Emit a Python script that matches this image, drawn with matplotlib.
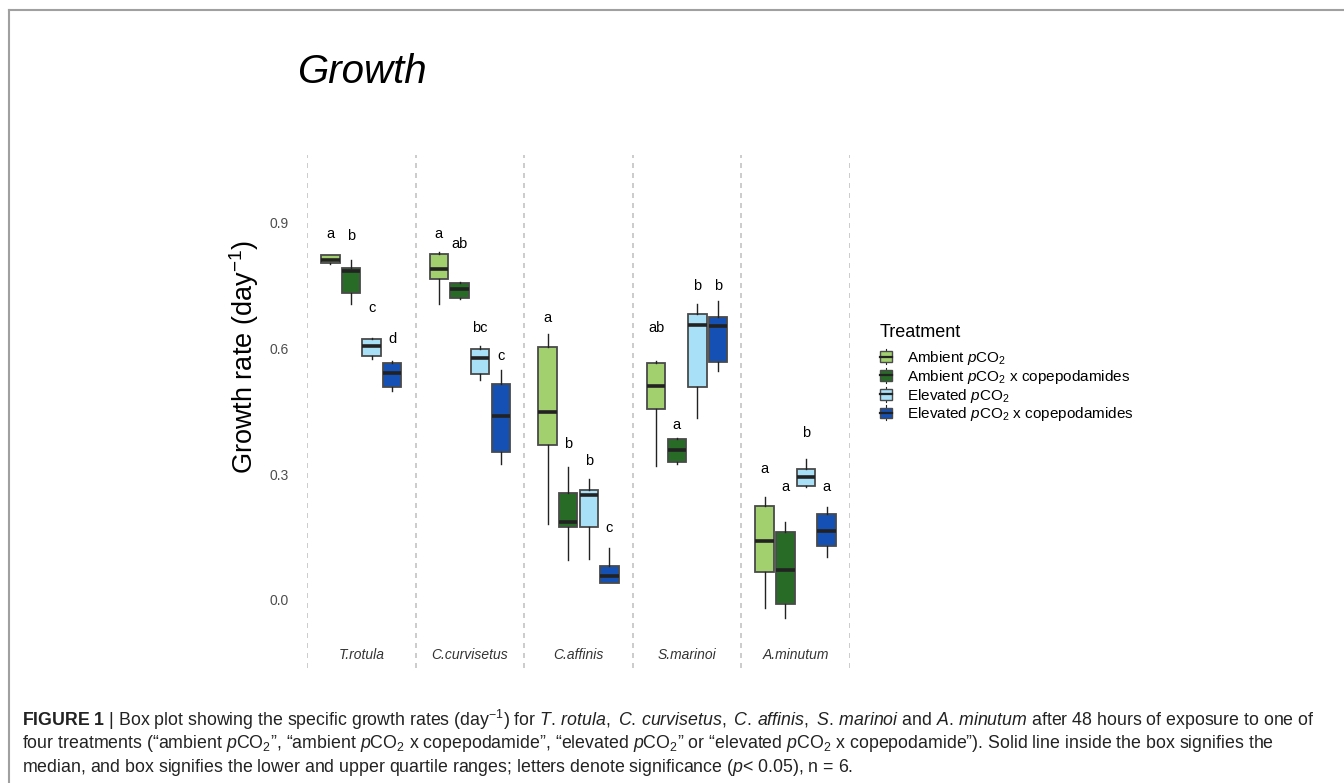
import matplotlib
matplotlib.use("Agg")
import matplotlib.pyplot as plt
from matplotlib.lines import Line2D
from matplotlib.patches import Rectangle, Patch
from matplotlib.legend_handler import HandlerBase

plt.rcParams['font.family'] = ['Liberation Sans', 'DejaVu Sans']
plt.rcParams['mathtext.fontset'] = 'custom'
plt.rcParams['mathtext.rm'] = 'Liberation Sans'
plt.rcParams['mathtext.it'] = 'Liberation Sans:italic'
plt.rcParams['mathtext.bf'] = 'Liberation Sans:bold'

# Species (facets) and treatments (boxes inside each facet)
species = ['T.rotula', 'C.curvisetus', 'C.affinis', 'S.marinoi', 'A.minutum']
treatments = ['Ambient $p$CO$_2$',
              'Ambient $p$CO$_2$ x copepodamides',
              'Elevated $p$CO$_2$',
              'Elevated $p$CO$_2$ x copepodamides']
colors = ['#a3d06f', '#276b27', '#a8e0f8', '#1550b4']

# Box statistics, one row per treatment, one column per species
q1 = [[0.802, 0.765, 0.369, 0.456, 0.067],
      [0.732, 0.719, 0.175, 0.329, -0.010],
      [0.581, 0.538, 0.175, 0.508, 0.271],
      [0.508, 0.352, 0.041, 0.567, 0.129]]
med = [[0.811, 0.788, 0.448, 0.510, 0.141],
       [0.783, 0.741, 0.185, 0.357, 0.071],
       [0.605, 0.577, 0.249, 0.655, 0.294],
       [0.541, 0.438, 0.057, 0.653, 0.165]]
q3 = [[0.821, 0.824, 0.603, 0.565, 0.224],
      [0.790, 0.756, 0.256, 0.383, 0.161],
      [0.621, 0.598, 0.261, 0.682, 0.311],
      [0.564, 0.515, 0.082, 0.675, 0.204]]
whislo = [[0.800, 0.706, 0.180, 0.320, -0.020],
          [0.705, 0.716, 0.095, 0.325, -0.044],
          [0.575, 0.523, 0.097, 0.434, 0.270],
          [0.498, 0.325, 0.040, 0.545, 0.103]]
whishi = [[0.823, 0.828, 0.633, 0.570, 0.245],
          [0.810, 0.757, 0.317, 0.386, 0.185],
          [0.625, 0.605, 0.289, 0.704, 0.337],
          [0.570, 0.547, 0.124, 0.712, 0.221]]

# significance letters and their heights
sig = [['a', 'a', 'a', 'ab', 'a'],
       ['b', 'ab', 'b', 'a', 'a'],
       ['c', 'bc', 'b', 'b', 'b'],
       ['d', 'c', 'c', 'b', 'a']]
sig_y = [[0.871, 0.871, 0.671, 0.647, 0.312],
         [0.867, 0.847, 0.371, 0.416, 0.270],
         [0.696, 0.647, 0.331, 0.748, 0.397],
         [0.621, 0.581, 0.171, 0.748, 0.270]]

yticks = [0.0, 0.3, 0.6, 0.9]

step = 0.19
box_w = 0.17

fig = plt.figure(figsize=(13.44, 7.83), dpi=100)
ax = fig.add_axes([0.2284, 0.1469, 0.404, 0.6551])

for t in range(len(treatments)):
    stats = []
    pos = []
    for s in range(len(species)):
        stats.append(dict(med=med[t][s], q1=q1[t][s], q3=q3[t][s],
                          whislo=whislo[t][s], whishi=whishi[t][s], fliers=[]))
        pos.append(s + 0.5 + (t - 1.5) * step)
    ax.bxp(stats, positions=pos, widths=box_w, patch_artist=True,
           showcaps=False, manage_ticks=False,
           boxprops=dict(facecolor=colors[t], edgecolor='#4a4a4a', linewidth=1.3),
           medianprops=dict(color='#222222', linewidth=2.6),
           whiskerprops=dict(color='#222222', linewidth=1.0),
           zorder=3)
    for s in range(len(species)):
        ax.text(pos[s], sig_y[t][s], sig[t][s], ha='center', va='center',
                fontsize=10.5, color='black')

# facet separators
for i in range(len(species) + 1):
    ax.axvline(i, color='#c4c4c4', linewidth=1.2, linestyle=(0, (3, 3)), zorder=1)

for i, name in enumerate(species):
    ax.text(i + 0.5, -0.131, name, ha='center', va='center', fontsize=10,
            style='italic', color='#333333')

ax.set_xlim(0, 5)
ax.set_ylim(-0.162, 1.06)
ax.set_xticks([])
ax.set_yticks(yticks)
ax.set_yticklabels(['0.0', '0.3', '0.6', '0.9'])
ax.tick_params(axis='y', length=0, pad=13, labelsize=10, labelcolor='#4d4d4d')
for sp in ax.spines.values():
    sp.set_visible(False)
ax.set_ylabel('Growth rate (day$^{-1}$)', fontsize=19.5, color='black')
ax.yaxis.set_label_coords(-0.085, 0.606)


class BoxKey(HandlerBase):
    def create_artists(self, legend, orig_handle, xdescent, ydescent,
                       width, height, fontsize, trans):
        x0, y0 = -xdescent, -ydescent
        cx = x0 + width / 2
        whisker = Line2D([cx, cx], [y0 - 0.2 * height, y0 + 1.2 * height],
                         color='#222222', linewidth=0.8, transform=trans)
        box = Rectangle((x0, y0), width, height,
                        facecolor=orig_handle.get_facecolor(),
                        edgecolor='#4a4a4a', linewidth=1.0, transform=trans)
        mid = Line2D([x0, x0 + width], [y0 + height / 2] * 2,
                     color='#222222', linewidth=1.6, transform=trans)
        return [whisker, box, mid]


handles = [Patch(facecolor=c) for c in colors]
leg = ax.legend(handles, treatments, title='Treatment', loc='upper left',
                bbox_to_anchor=(869 / 1344, 1 - 313 / 783),
                bbox_transform=fig.transFigure, frameon=False,
                fontsize=11, title_fontsize=13, alignment='left',
                handler_map={Patch: BoxKey()},
                handlelength=0.8, handleheight=0.7, handletextpad=1.0,
                labelspacing=0.05, borderpad=0.2)
# more room between the legend title and the keys
leg._legend_box.sep = 6

fig.text(362 / 1344, 1 - 72 / 783, 'Growth', fontsize=29, style='italic',
         ha='center', va='center')

# frame around the figure panel
fig.add_artist(Line2D([9 / 1344, 1], [1 - 10 / 783] * 2, color='#a0a0a0',
                      linewidth=1.5, transform=fig.transFigure))
fig.add_artist(Line2D([9 / 1344] * 2, [0, 1 - 10 / 783], color='#a0a0a0',
                      linewidth=1.5, transform=fig.transFigure))

caption = [
    r'$\mathbf{FIGURE\ 1}$ | Box plot showing the specific growth rates (day$^{-1}$) for '
    r'$\mathit{T.\,rotula,}$ $\mathit{C.\,curvisetus,}$ $\mathit{C.\,affinis,}$ '
    r'$\mathit{S.\,marinoi}$ and $\mathit{A.\,minutum}$ after 48 hours of exposure to one of',
    r'four treatments (“ambient $p$CO$_2$”, “ambient $p$CO$_2$ x copepodamide”, '
    r'“elevated $p$CO$_2$” or “elevated $p$CO$_2$ x copepodamide”). Solid line inside the box signifies the',
    r'median, and box signifies the lower and upper quartile ranges; letters denote significance '
    r'($p$< 0.05), n = 6.',
]
for k, line in enumerate(caption):
    fig.text(22 / 1344, 1 - (720 + 24 * k) / 783, line, fontsize=12.8,
             color='#222222', ha='left', va='center')

fig.savefig('out.png', dpi=100)
